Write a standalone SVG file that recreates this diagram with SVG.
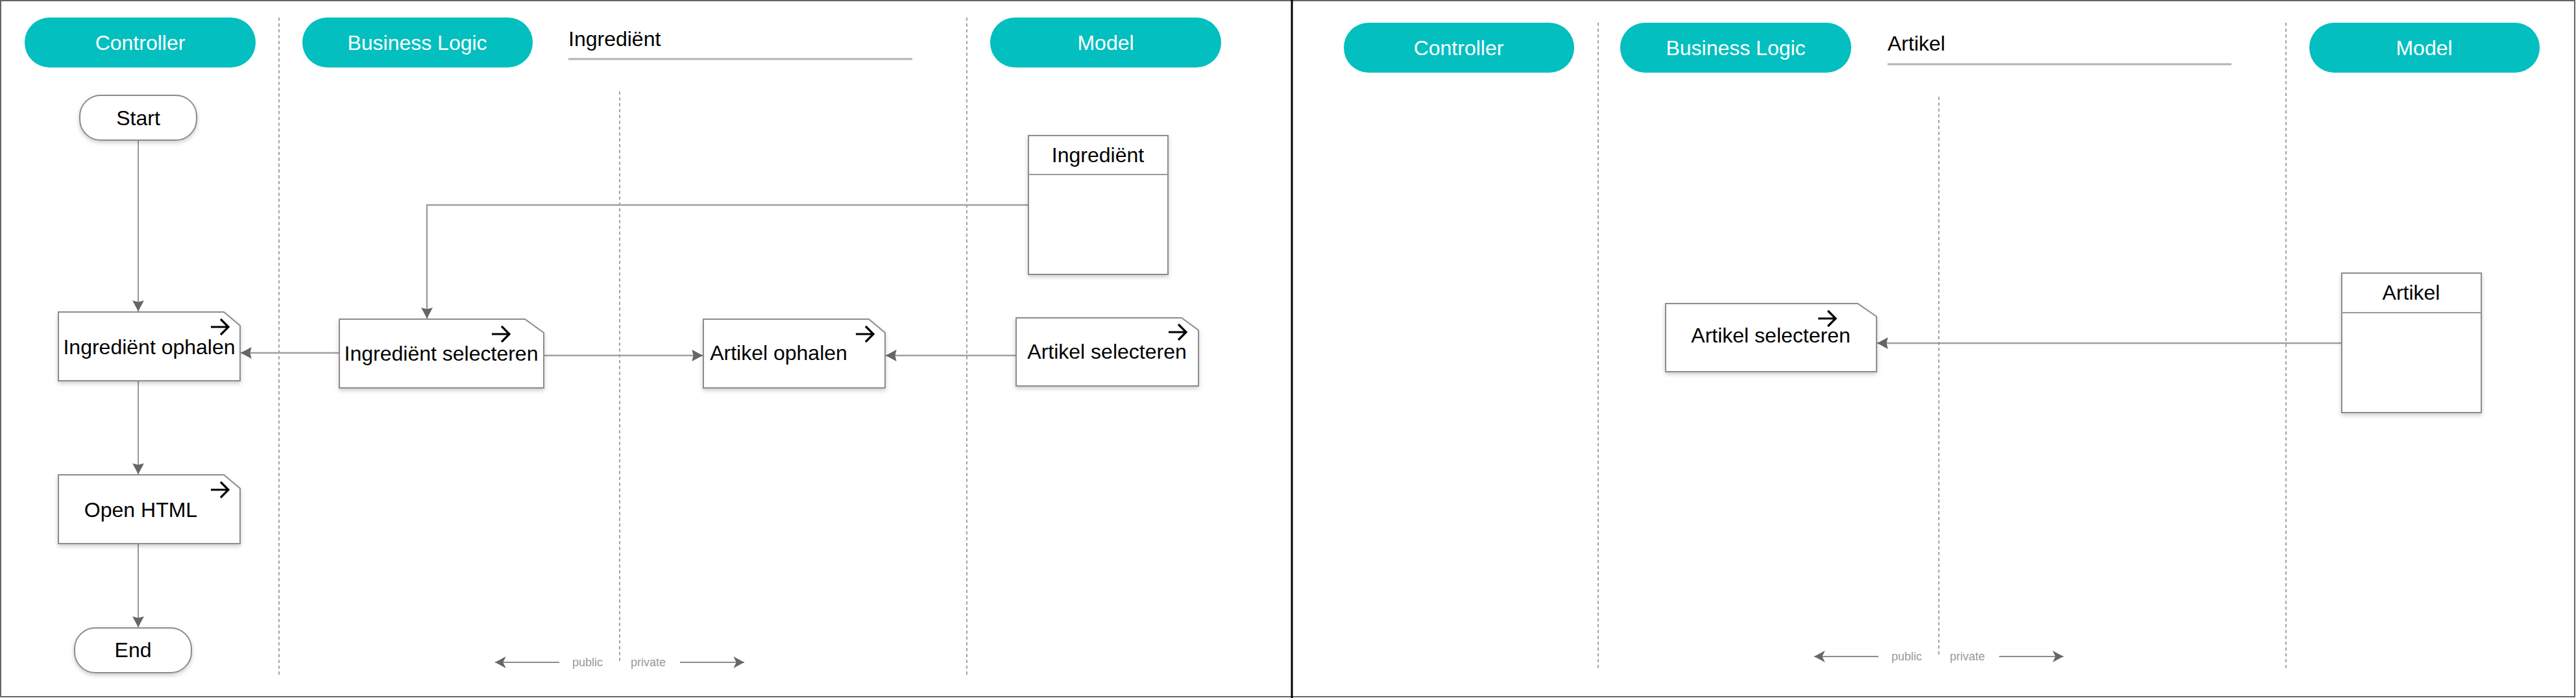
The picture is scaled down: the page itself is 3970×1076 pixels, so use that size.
<svg xmlns="http://www.w3.org/2000/svg" width="3970" height="1076" viewBox="0 0 3970 1076">
<style>
text{font-family:"Liberation Sans",Arial,sans-serif}
.pill{fill:#04BFBF}
.pt{fill:#fff;font-size:32px;text-anchor:middle}
.nt{fill:#000;font-size:32px;text-anchor:middle}
.title{fill:#000;font-size:32px}
.uline{stroke:#b3b3b3;stroke-width:3}
.lane{stroke:#888;stroke-width:1.5;stroke-dasharray:5 4;fill:none}
.box{fill:#fff;stroke:#8c8c8c;stroke-width:2;filter:url(#sh)}
.icon{fill:none;stroke:#000;stroke-width:3.2}
.cv{stroke:#777;stroke-width:1.5;fill:none;marker-end:url(#ah)}
.ch{stroke:#a0a0a0;stroke-width:2.5;fill:none;marker-end:url(#ah)}
.leg{stroke:#666;stroke-width:1.5;fill:none;marker-end:url(#ah2)}
.lt{fill:#999;font-size:18px}
</style>
<defs>
<filter id="sh" x="-10%" y="-10%" width="120%" height="130%">
<feDropShadow dx="0" dy="3" stdDeviation="3" flood-color="#000" flood-opacity="0.2"/>
</filter>
<marker id="ah" markerUnits="userSpaceOnUse" markerWidth="20" markerHeight="20" viewBox="-16 -9 18 18" refX="0" refY="0" orient="auto">
<path d="M0,0 L-15,-8 L-13,0 L-15,8 Z" fill="#666"/>
</marker>
<marker id="ah2" markerUnits="userSpaceOnUse" markerWidth="20" markerHeight="20" viewBox="-16 -9 18 18" refX="0" refY="0" orient="auto">
<path d="M0,0 L-15,-8 L-11,0 L-15,8 Z" fill="#666"/>
</marker>
</defs>
<rect x="0" y="0" width="3970" height="1076" fill="#fff"/>
<rect x="1" y="1" width="3967" height="1073" fill="none" stroke="#666" stroke-width="2"/>
<line x1="1991" y1="0" x2="1991" y2="1076" stroke="#000" stroke-width="3"/>

<!-- LEFT PANEL lanes -->
<g id="lanes-left">
<line class="lane" x1="430" y1="27" x2="430" y2="1043"/>
<line class="lane" x1="1490" y1="27" x2="1490" y2="1043"/>
<line class="lane" x1="955" y1="141" x2="955" y2="1020"/>
</g>
<g id="hdr-controller-1"><rect class="pill" x="38" y="27" width="356" height="77" rx="38"/><text class="pt" x="216" y="77">Controller</text></g>
<g id="hdr-business-1"><rect class="pill" x="466" y="27" width="355" height="77" rx="38"/><text class="pt" x="643" y="77">Business Logic</text></g>
<g id="hdr-model-1"><rect class="pill" x="1526" y="27" width="356" height="77" rx="38"/><text class="pt" x="1704" y="77">Model</text></g>
<g id="title-1"><text class="title" x="876" y="71">Ingrediënt</text><line class="uline" x1="876" y1="91" x2="1406" y2="91"/></g>

<g id="legend-1">
<line class="leg" x1="862" y1="1021" x2="763" y2="1021"/>
<text class="lt" x="882" y="1027">public</text>
<text class="lt" x="972" y="1027">private</text>
<line class="leg" x1="1048" y1="1021" x2="1147" y2="1021"/>
</g>

<!-- connectors -->
<g id="connectors">
<line class="cv" x1="213" y1="216" x2="213" y2="480"/>
<line class="cv" x1="213" y1="587" x2="213" y2="731"/>
<line class="cv" x1="213" y1="838" x2="213" y2="967"/>
<line class="ch" x1="523" y1="544" x2="371" y2="544"/>
<line class="ch" x1="838" y1="548" x2="1083" y2="548"/>
<line class="ch" x1="1566" y1="548" x2="1365" y2="548"/>
<path class="ch" d="M1585,316 L658,316 L658,491"/>
<line class="ch" x1="3609" y1="529" x2="2893" y2="529"/>
</g>

<g id="start"><rect class="box" x="123" y="147" width="180" height="69" rx="32"/><text class="nt" x="213" y="193">Start</text></g>
<g id="ingredient-ophalen"><path class="box" d="M90,481 H345 L370,502 V587 H90 Z"/><path class="icon" d="M325,504 H350 M340,492 L352,504 L340,516"/><text class="nt" x="230" y="546">Ingrediënt ophalen</text></g>
<g id="open-html"><path class="box" d="M90,732 H345 L370,753 V838 H90 Z"/><path class="icon" d="M325,755 H350 M340,743 L352,755 L340,767"/><text class="nt" x="217" y="797">Open HTML</text></g>
<g id="end"><rect class="box" x="115" y="968" width="180" height="69" rx="32"/><text class="nt" x="205" y="1013">End</text></g>
<g id="ingredient-selecteren"><path class="box" d="M523,492 H809 L838,513 V598 H523 Z"/><path class="icon" d="M758,515 H783 M773,503 L785,515 L773,527"/><text class="nt" x="680" y="556">Ingrediënt selecteren</text></g>
<g id="artikel-ophalen"><path class="box" d="M1084,492 H1339 L1364,513 V598 H1084 Z"/><path class="icon" d="M1319,515 H1344 M1334,503 L1346,515 L1334,527"/><text class="nt" x="1200" y="555">Artikel ophalen</text></g>
<g id="artikel-selecteren-1"><path class="box" d="M1566,490 H1821 L1847,509 V595 H1566 Z"/><path class="icon" d="M1801,512 H1826 M1816,500 L1828,512 L1816,524"/><text class="nt" x="1706" y="553">Artikel selecteren</text></g>
<g id="class-ingredient"><rect class="box" x="1585" y="209" width="215" height="214"/><line x1="1585" y1="269" x2="1800" y2="269" stroke="#999" stroke-width="2"/><text class="nt" x="1692" y="250">Ingrediënt</text></g>

<!-- RIGHT PANEL -->
<g id="lanes-right">
<line class="lane" x1="2463" y1="35" x2="2463" y2="1033"/>
<line class="lane" x1="3523" y1="35" x2="3523" y2="1033"/>
<line class="lane" x1="2988" y1="149" x2="2988" y2="1010"/>
</g>
<g id="hdr-controller-2"><rect class="pill" x="2071" y="35" width="355" height="77" rx="38"/><text class="pt" x="2248" y="85">Controller</text></g>
<g id="hdr-business-2"><rect class="pill" x="2497" y="35" width="356" height="77" rx="38"/><text class="pt" x="2675" y="85">Business Logic</text></g>
<g id="hdr-model-2"><rect class="pill" x="3559" y="35" width="355" height="77" rx="38"/><text class="pt" x="3736" y="85">Model</text></g>
<g id="title-2"><text class="title" x="2909" y="78">Artikel</text><line class="uline" x1="2909" y1="99" x2="3439" y2="99"/></g>

<g id="legend-2">
<line class="leg" x1="2895" y1="1012" x2="2796" y2="1012"/>
<text class="lt" x="2915" y="1018">public</text>
<text class="lt" x="3005" y="1018">private</text>
<line class="leg" x1="3081" y1="1012" x2="3180" y2="1012"/>
</g>

<g id="artikel-selecteren-2"><path class="box" d="M2567,468 H2863 L2892,488 V573 H2567 Z"/><path class="icon" d="M2802,491 H2827 M2817,479 L2829,491 L2817,503"/><text class="nt" x="2729" y="528">Artikel selecteren</text></g>
<g id="class-artikel"><rect class="box" x="3609" y="421" width="215" height="215"/><line x1="3609" y1="482" x2="3824" y2="482" stroke="#999" stroke-width="2"/><text class="nt" x="3716" y="462">Artikel</text></g>
</svg>
